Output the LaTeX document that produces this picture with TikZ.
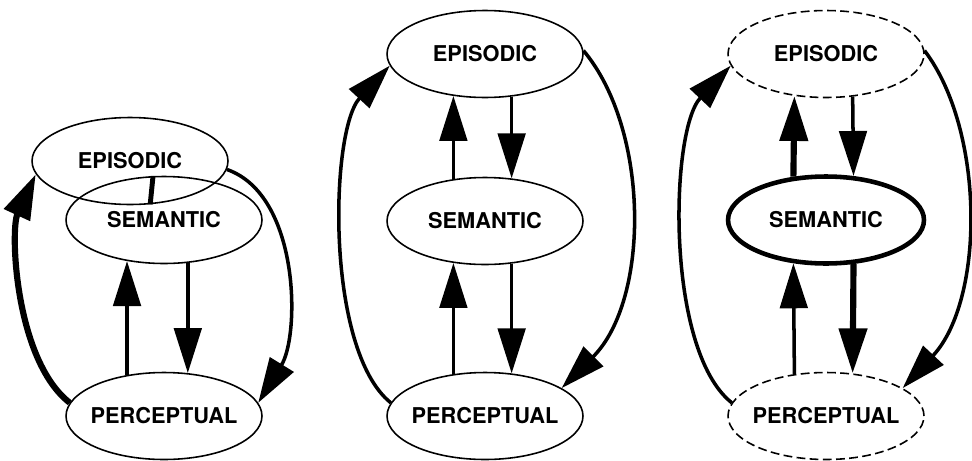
\documentclass[tikz,border=0pt]{standalone}
\usepackage{fontspec}
\setsansfont{TeX Gyre Heros}
\usetikzlibrary{shapes.geometric, arrows.meta}

\tikzset{
   memory/.style={ellipse, draw, line width=0.9pt, inner xsep=-8pt, inner ysep=0pt,
      minimum width=3.92cm, minimum height=1.74cm,
      font=\sffamily\bfseries\fontsize{12.4}{14}\selectfont},
   weakmem/.style={memory, dash pattern=on 5pt off 2.5pt},
   strongmem/.style={memory, line width=2.6pt},
   flow/.style={-{Triangle[length=0.9cm, width=0.55cm]}, line width=2pt},
   heavyflow/.style={flow, line width=3.5pt}
}

\begin{document}
\begin{tikzpicture}[x=0.02cm, y=-0.02cm]
      \useasboundingbox (0,0) rectangle (972,460);
      % Left: episodic folded into semantic
      \node[memory] (epiA) at (130,161) {EPISODIC};
      \node[memory] (semA) at (164,220) {SEMANTIC};
      \node[memory] (perA) at (164,416) {PERCEPTUAL};
      \draw[line width=2.8pt] (semA.104) -- (epiA.295);
      \draw[flow] (perA.132) -- (semA.228);
      \draw[flow] (semA.299) -- (perA.61);
      \draw[heavyflow] (perA.172) .. controls (15,360) and (10,230) .. (epiA.188);
      \draw[flow] (epiA.355) .. controls (300,195) and (300,335) .. (perA.8);
      % Middle: three separate stores
      \node[memory] (epiB) at (485,54) {EPISODIC};
      \node[memory] (semB) at (485,221) {SEMANTIC};
      \node[memory] (perB) at (485,416) {PERCEPTUAL};
      \draw[flow] (semB.127) -- (epiB.233);
      \draw[flow] (epiB.302) -- (semB.58);
      \draw[flow] (perB.127) -- (semB.233);
      \draw[flow] (semB.302) -- (perB.58);
      \draw[flow] (perB.172) .. controls (325,350) and (330,130) .. (epiB.187);
      \draw[flow] (epiB.2) .. controls (650,130) and (650,300) .. (perB.20);
      % Right: semantic strengthened
      \node[weakmem] (epiC) at (826,54) {EPISODIC};
      \node[strongmem] (semC) at (826,220) {SEMANTIC};
      \node[weakmem] (perC) at (826,416) {PERCEPTUAL};
      \draw[heavyflow] (semC.127) -- (epiC.233);
      \draw[flow] (epiC.302) -- (semC.58);
      \draw[flow] (perC.127) -- (semC.233);
      \draw[heavyflow] (semC.302) -- (perC.58);
      \draw[flow] (perC.172) .. controls (665,350) and (670,130) .. (epiC.187);
      \draw[flow] (epiC.2) .. controls (985,130) and (985,300) .. (perC.20);
\end{tikzpicture}
\end{document}
